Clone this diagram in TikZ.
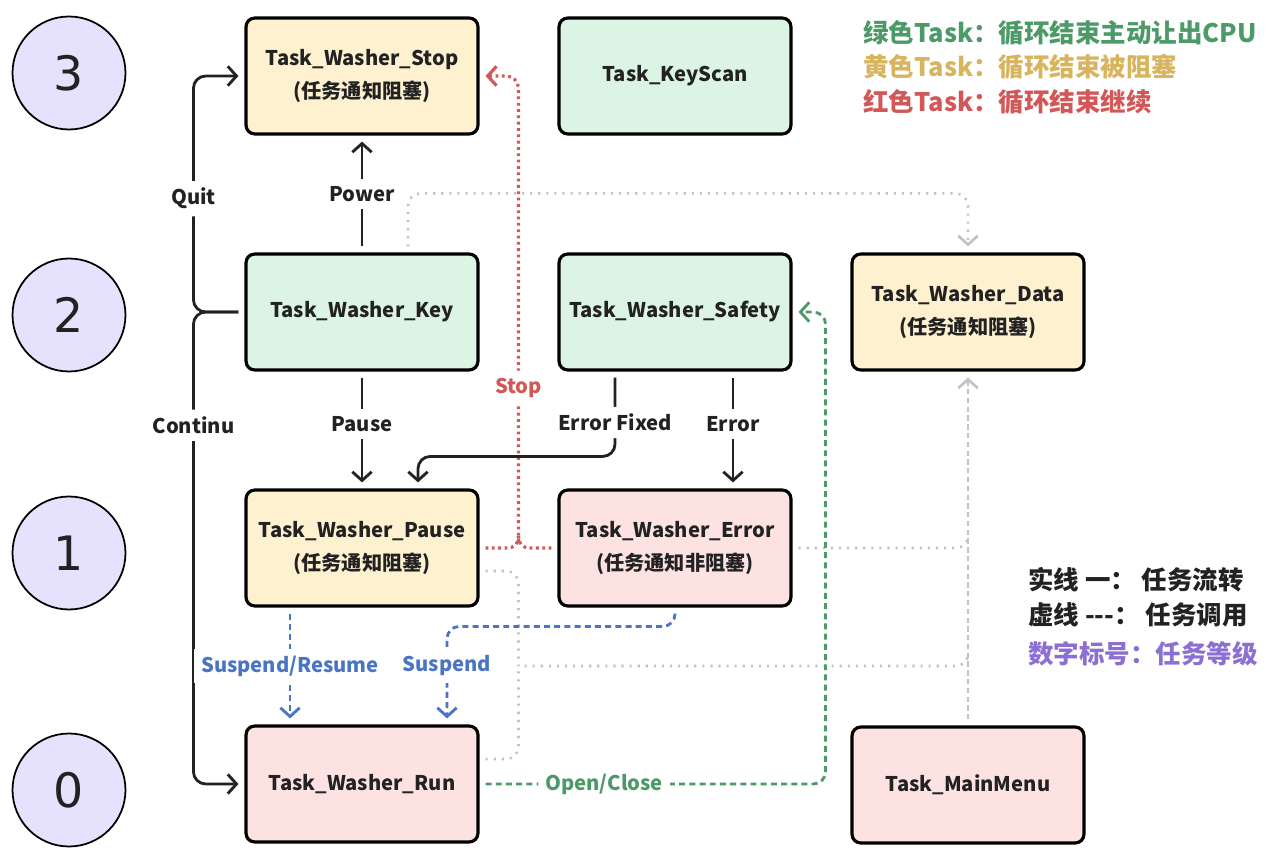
\documentclass[tikz,border=0pt]{standalone}
\usepackage{fontspec}
\setmainfont{Noto Sans CJK SC}
\newfontfamily\numfont{DejaVu Sans}
\usetikzlibrary{arrows.meta,calc}

\definecolor{ink}{HTML}{222222}
\definecolor{fillgreen}{HTML}{DCF4E3}
\definecolor{fillyellow}{HTML}{FDF1D0}
\definecolor{fillred}{HTML}{FDE2E2}
\definecolor{fillpurple}{HTML}{E6E1FC}
\definecolor{lgreen}{HTML}{4C9A67}
\definecolor{lyellow}{HTML}{D8B45E}
\definecolor{lred}{HTML}{D25858}
\definecolor{lpurple}{HTML}{8C6FD2}
\definecolor{lblue}{HTML}{4A74C4}
\definecolor{lgray}{HTML}{C2C2C2}

\begin{document}
\begin{tikzpicture}[x=0.02cm, y=-0.02cm,
      task/.style={rectangle, draw=black, line width=1.8pt, rounded corners=5pt,
                   minimum width=4.64cm, minimum height=2.32cm, align=center,
                   text=ink, font=\bfseries\fontsize{11.5}{19}\selectfont},
      level/.style={circle, draw=black, line width=1pt, fill=fillpurple,
                    minimum size=2.26cm, text=ink,
                    font=\numfont\fontsize{27}{30}\selectfont},
      lbl/.style={fill=white, inner sep=4pt, text=ink,
                  font=\bfseries\fontsize{11.5}{14}\selectfont},
      note/.style={anchor=west, inner sep=0pt, text=ink,
                   font=\bfseries\fontsize{14.5}{17}\selectfont},
      tip/.style={-{Straight Barb[length=5pt,width=11pt]}, shorten >=0.12cm},
      flow/.style={line width=1.6pt, draw=ink, shorten <=0.12cm},
      stopcall/.style={line width=1.8pt, draw=lred, dash pattern=on 1.6pt off 2pt,
                       shorten <=0.12cm},
      datacall/.style={line width=1.5pt, draw=lgray, dash pattern=on 1.2pt off 3.4pt,
                       shorten <=0.12cm},
      menucall/.style={line width=1.5pt, draw=lgray, dash pattern=on 3pt off 2pt,
                       shorten <=0.12cm},
      suspcall/.style={line width=1.6pt, draw=lblue, dash pattern=on 3.4pt off 2.4pt,
                       shorten <=0.12cm},
      safecall/.style={line width=1.6pt, draw=lgreen, dash pattern=on 3.4pt off 2.4pt,
                       shorten <=0.12cm}
    ]
    \fill[white] (0,0) rectangle (1277,864);
    \useasboundingbox (0,0) rectangle (1277,864);

    \foreach \n/\y in {3/73, 2/315, 1/553, 0/790}
      \node[level] (lv\n) at (69,\y) {\n};

    \node[task, fill=fillyellow] (stop)     at (362,76)  {Task\_Washer\_Stop\\(任务通知阻塞)};
    \node[task, fill=fillgreen]  (keyscan)  at (675,76)  {Task\_KeyScan};
    \node[task, fill=fillgreen]  (key)      at (362,312) {Task\_Washer\_Key};
    \node[task, fill=fillgreen]  (safety)   at (675,312) {Task\_Washer\_Safety};
    \node[task, fill=fillyellow] (data)     at (968,312) {Task\_Washer\_Data\\(任务通知阻塞)};
    \node[task, fill=fillyellow] (pause)    at (362,548) {Task\_Washer\_Pause\\(任务通知阻塞)};
    \node[task, fill=fillred]    (error)    at (675,548) {Task\_Washer\_Error\\(任务通知非阻塞)};
    \node[task, fill=fillred]    (run)      at (362,784) {Task\_Washer\_Run};
    \node[task, fill=fillred]    (mainmenu) at (968,785) {Task\_MainMenu};

    \coordinate (stopjoin) at ($(pause.east)!0.5!(error.west)$);
    \coordinate (calljoin) at (stopjoin |- {$(pause.south)!0.5!(run.north)$});
    \coordinate (datatop)  at ($(data.north)+(0,-59)$);

    % task calls (grey)
    \draw[datacall, tip, rounded corners=7pt] ($(key.north)+(46,0)$) |- (datatop) -- (data.north);
    \draw[datacall, rounded corners=7pt] ($(pause.east)+(0,23)$) -| (calljoin);
    \draw[datacall, rounded corners=7pt] ($(run.east)+(0,-25)$) -| (calljoin);
    \draw[datacall, rounded corners=7pt] (calljoin) -| ($(data.south |- calljoin)+(0,-12)$);
    \draw[datacall, rounded corners=7pt] (error.east) -| ($(data.south |- error.east)+(0,-12)$);
    \draw[menucall, tip] (mainmenu.north) -- (data.south);

    % stop
    \draw[stopcall, rounded corners=6pt] (pause.east) -| ($(stopjoin)+(0,-12)$);
    \draw[stopcall, rounded corners=6pt] (error.west) -| ($(stopjoin)+(0,-12)$);
    \draw[stopcall, tip, rounded corners=7pt] (stopjoin) |- node[lbl, pos=0.17, text=lred] (stoplbl) {Stop} (stop.east);

    % task flow
    \draw[flow, tip] (key.north) -- node[lbl] (powerlbl) {Power} (stop.south);
    \draw[flow, tip, rounded corners=7pt] (key.west) -- ++(-51,0) |- node[lbl, pos=0.24] (quitlbl) {Quit} (stop.west);
    \draw[flow, tip, rounded corners=7pt] (key.west) -- ++(-51,0) |- node[lbl, pos=0.12] (contlbl) {Continu} (run.west);
    \draw[flow, tip] (key.south) -- node[lbl, pos=0.45] (pauselbl) {Pause} (pause.north);
    \draw[flow, tip, rounded corners=7pt] ($(safety.south)+(-60,0)$) |- node[lbl, pos=0.3] (fixlbl) {Error Fixed} ($(pause.north)+(56,-32)$) -- ($(pause.north)+(56,0)$);
    \draw[flow, tip] ($(safety.south)+(58,0)$) -- node[lbl, pos=0.45] (errlbl) {Error} ($(error.north)+(58,0)$);

    % suspend / resume
    \draw[suspcall, tip] ($(pause.south)+(-72,0)$) -- node[lbl, text=lblue] (resumelbl) {Suspend/Resume} ($(run.north)+(-72,0)$);
    \draw[suspcall, tip, rounded corners=7pt] (error.south) |- ($(run.north)+(85,-98)$) -- node[lbl, pos=0.4, text=lblue] (susplbl) {Suspend} ($(run.north)+(85,0)$);

    % open / close
    \draw[safecall, tip, rounded corners=7pt] (run.east) -| node[lbl, pos=0.18, text=lgreen] (oclbl) {Open/Close} ($(safety.east)+(33,0)$) -- (safety.east);

    % legend
    \node[note, text=lgreen]  (leggreen)  at (863,33)   {绿色Task：循环结束主动让出CPU};
    \node[note, text=lyellow] (legyellow) at (863,67)   {黄色Task：循环结束被阻塞};
    \node[note, text=lred]    (legred)    at (863,102)  {红色Task：循环结束继续};
    \node[note]               (legsolid)  at (1028,580) {实线 一： 任务流转};
    \node[note]               (legdash)   at (1028,615) {虚线 -{}-{}-： 任务调用};
    \node[note, text=lpurple] (legnum)    at (1028,654) {数字标号：任务等级};
  \end{tikzpicture}
\end{document}
